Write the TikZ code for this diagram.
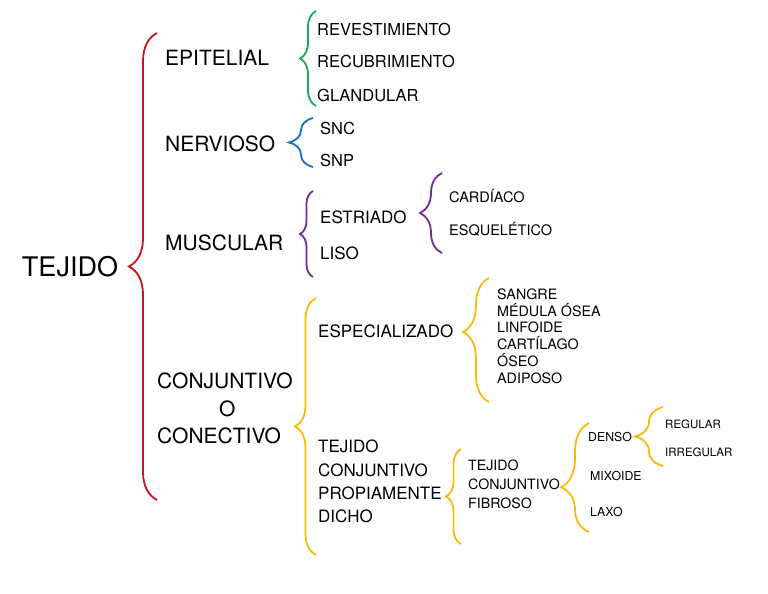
\documentclass[tikz,border=0pt]{standalone}
\usepackage{xcolor}
\usepackage{fontspec}
\setmainfont{TeX Gyre Heros}
\usepackage{tikz}
\usetikzlibrary{positioning, decorations.pathreplacing}

\definecolor{tred}{RGB}{196,22,34}
\definecolor{tgreen}{RGB}{26,170,84}
\definecolor{tblue}{RGB}{22,112,196}
\definecolor{tpurple}{RGB}{112,44,152}
\definecolor{tyellow}{RGB}{250,186,10}

\tikzset{
  curly/.style={decorate, decoration={brace, amplitude=#1}, line width=1.8pt},
  txt/.style={anchor=west, inner sep=0pt, align=left},
}

\begin{document}
\begin{tikzpicture}[x=1pt,y=1pt,yscale=-1]
\useasboundingbox (0,0) rectangle (768,594);

% brace ends
\coordinate (tej-b) at (157,500);  \coordinate (tej-t) at (157,33);
\coordinate (epi-b) at (316,106);  \coordinate (epi-t) at (316,11);
\coordinate (ner-b) at (313,167);  \coordinate (ner-t) at (313,118);
\coordinate (mus-b) at (313,277);  \coordinate (mus-t) at (313,191);
\coordinate (est-b) at (442,253);  \coordinate (est-t) at (442,173);
\coordinate (con-b) at (316,555);  \coordinate (con-t) at (316,298);
\coordinate (esp-b) at (489,402);  \coordinate (esp-t) at (489,278);
\coordinate (pro-b) at (461,544);  \coordinate (pro-t) at (461,449);
\coordinate (fib-b) at (589,532);  \coordinate (fib-t) at (589,423);
\coordinate (den-b) at (663,466);  \coordinate (den-t) at (663,407);

% Text Node
\node [inner sep=0pt, font=\fontsize{27}{30}\selectfont] (tejido) at (70,267) {TEJIDO};

% Text Node
\node [txt, font=\fontsize{21}{24}\selectfont] (epitelial) at (165,57.5) {EPITELIAL};
\node [txt, font=\fontsize{21}{24}\selectfont] (nervioso) at (165,144) {NERVIOSO};
\node [txt, font=\fontsize{21}{24}\selectfont] (muscular) at (165,242.5) {MUSCULAR};
\node [txt, font=\fontsize{21}{27.8}\selectfont] (conjuntivo) at (157,408.5) {CONJUNTIVO\\\hspace*{62pt}O\\CONECTIVO};

% Text Node
\node [txt, font=\fontsize{16.5}{19}\selectfont] (revest) at (317,29) {REVESTIMIENTO};
\node [txt, font=\fontsize{16.5}{19}\selectfont] (recub) at (317,61.5) {RECUBRIMIENTO};
\node [txt, font=\fontsize{16.5}{19}\selectfont] (glandular) at (317,95) {GLANDULAR};

\node [txt, font=\fontsize{16.5}{19}\selectfont] (snc) at (320,128) {SNC};
\node [txt, font=\fontsize{16.5}{19}\selectfont] (snp) at (320,160) {SNP};

\node [txt, font=\fontsize{17}{19}\selectfont] (estriado) at (320,217.5) {ESTRIADO};
\node [txt, font=\fontsize{17}{19}\selectfont] (liso) at (320,253.5) {LISO};

\node [txt, font=\fontsize{14.5}{17}\selectfont] (cardiaco) at (449,196) {CARDÍACO};
\node [txt, font=\fontsize{14.5}{17}\selectfont] (esquel) at (449,229) {ESQUELÉTICO};

% Text Node
\node [txt, font=\fontsize{17}{19}\selectfont] (especial) at (318,331.5) {ESPECIALIZADO};
\node [txt, font=\fontsize{17}{23.3}\selectfont] (propia) at (318,481.5) {TEJIDO\\CONJUNTIVO\\PROPIAMENTE\\DICHO};

\node [txt, font=\fontsize{14.3}{16.8}\selectfont] (tipos) at (497,336) {SANGRE\\MÉDULA ÓSEA\\LINFOIDE\\CARTÍLAGO\\ÓSEO\\ADIPOSO};

\node [txt, font=\fontsize{14.2}{19}\selectfont] (fibroso) at (468,484) {TEJIDO\\CONJUNTIVO\\FIBROSO};

\node [txt, font=\fontsize{12.3}{14}\selectfont] (denso) at (588,437) {DENSO};
\node [txt, font=\fontsize{12.3}{14}\selectfont] (mixoide) at (590,476) {MIXOIDE};
\node [txt, font=\fontsize{12.3}{14}\selectfont] (laxo) at (590,512) {LAXO};

\node [txt, font=\fontsize{11.5}{14}\selectfont] (regular) at (665,424.5) {REGULAR};
\node [txt, font=\fontsize{11.5}{14}\selectfont] (irregular) at (665,452) {IRREGULAR};

% braces
\draw [curly=28pt, tred] (tej-b) -- (tej-t);
\draw [curly=16pt, tgreen] (epi-b) -- (epi-t);
\draw [curly=24pt, tblue] (ner-b) -- (ner-t);
\draw [curly=13pt, tpurple] (mus-b) -- (mus-t);
\draw [curly=22pt, tpurple] (est-b) -- (est-t);
\draw [curly=21pt, tyellow] (con-b) -- (con-t);
\draw [curly=26pt, tyellow, decoration={aspect=0.565}] (esp-b) -- (esp-t);
\draw [curly=15pt, tyellow] (pro-b) -- (pro-t);
\draw [curly=28pt, tyellow, decoration={aspect=0.41}] (fib-b) -- (fib-t);
\draw [curly=28pt, tyellow] (den-b) -- (den-t);

\end{tikzpicture}
\end{document}
